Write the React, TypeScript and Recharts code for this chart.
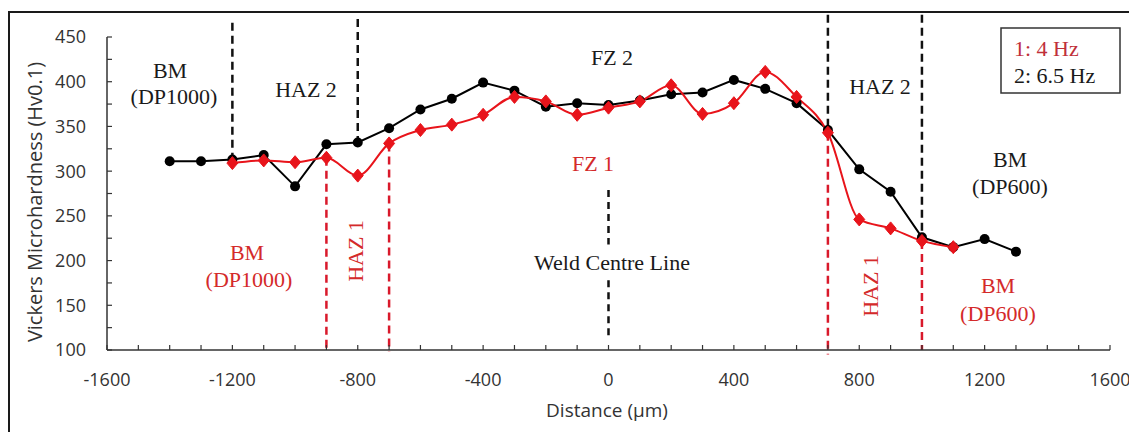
import { LineChart, Line, XAxis, YAxis, ReferenceLine } from 'recharts';

// 2: 6.5 Hz (black)
const distance65 = [-1400, -1300, -1200, -1100, -1000, -900, -800, -700, -600, -500, -400, -300, -200, -100, 0, 100, 200, 300, 400, 500, 600, 700, 800, 900, 1000, 1100, 1200, 1300];
const hardness65 = [311, 311, 313, 318, 283, 330, 332, 348, 369, 381, 399, 390, 372, 376, 374, 379, 386, 388, 402, 392, 376, 346, 302, 277, 226, 215, 224, 210];

// 1: 4 Hz (red)
const distance4 = [-1200, -1100, -1000, -900, -800, -700, -600, -500, -400, -300, -200, -100, 0, 100, 200, 300, 400, 500, 600, 700, 800, 900, 1000, 1100];
const hardness4 = [309, 312, 310, 315, 295, 331, 346, 352, 363, 383, 378, 363, 371, 378, 396, 364, 376, 411, 383, 343, 246, 236, 222, 215];

const xMajorTicks = [-1600, -1200, -800, -400, 0, 400, 800, 1200, 1600];
const xAllTicks = [-1600, -1500, -1400, -1300, -1200, -1100, -1000, -900, -800, -700, -600, -500, -400, -300, -200, -100, 0, 100, 200, 300, 400, 500, 600, 700, 800, 900, 1000, 1100, 1200, 1300, 1400, 1500, 1600];
const yMajorTicks = [100, 150, 200, 250, 300, 350, 400, 450];
const yAllTicks = [100, 125, 150, 175, 200, 225, 250, 275, 300, 325, 350, 375, 400, 425, 450];

// zone boundaries (x, top hardness, bottom hardness)
const blackBounds = [
  { x: -1200, top: 466, bottom: 313 },
  { x: -800, top: 470, bottom: 332 },
  { x: 700, top: 475, bottom: 346 },
  { x: 1000, top: 475, bottom: 226 },
];
const redBounds = [
  { x: -900, top: 315, bottom: 100 },
  { x: -700, top: 331, bottom: 98 },
  { x: 700, top: 343, bottom: 95 },
  { x: 1000, top: 222, bottom: 100 },
];
const centreLine = [
  { top: 279, bottom: 218 },
  { top: 178, bottom: 113 },
];

const series65 = distance65.map((x, i) => ({ x, hv: hardness65[i] }));
const series4 = distance4.map((x, i) => ({ x, hv: hardness4[i] }));

const RED = '#e8141b';
const RED_TEXT = '#d42a2a';
const AXIS_FONT = '"Open Sans", sans-serif';
const SERIF = '"Liberation Serif", "Times New Roman", serif';

const XTick = (props: any) => {
  const { x, y, payload } = props;
  const major = xMajorTicks.includes(payload.value);
  return (
    <g>
      <line x1={x} y1={y} x2={x} y2={y - 5} stroke="#333" strokeWidth={1.2} />
      {major && (
        <text x={x} y={y + 23} dy="0.71em" textAnchor="middle" fontFamily={AXIS_FONT} fontSize={18} fill="#333">
          {payload.value}
        </text>
      )}
    </g>
  );
};

const YTick = (props: any) => {
  const { x, y, payload } = props;
  const major = yMajorTicks.includes(payload.value);
  return (
    <g>
      <line x1={x} y1={y} x2={x + 5} y2={y} stroke="#333" strokeWidth={1.2} />
      {major && (
        <text x={x - 21} y={y} dy="0.355em" textAnchor="end" fontFamily={AXIS_FONT} fontSize={18} fill="#333">
          {payload.value}
        </text>
      )}
    </g>
  );
};

const Diamond = (props: any) => {
  const { cx, cy } = props;
  if (cx == null || cy == null) return null;
  return (
    <polygon
      points={`${cx},${cy - 6.5} ${cx + 5.5},${cy} ${cx},${cy + 6.5} ${cx - 5.5},${cy}`}
      fill={RED}
      stroke={RED}
      strokeWidth={1}
    />
  );
};

const Dot = (props: any) => {
  const { cx, cy } = props;
  if (cx == null || cy == null) return null;
  return <circle cx={cx} cy={cy} r={5} fill="#000" />;
};

const label = (text: string, x: number, y: number, color: string, rotate = false) => (
  <text
    x={x}
    y={y}
    textAnchor="middle"
    fontFamily={SERIF}
    fontSize={22}
    fill={color}
    transform={rotate ? `rotate(-90 ${x} ${y})` : undefined}
  >
    {text}
  </text>
);

const App = () => {
  return (
    <div style={{ position: 'relative', width: 1137, height: 432, margin: '-8px 0 0 -8px', overflow: 'hidden', background: 'white' }}>
      <div
        style={{
          position: 'absolute',
          left: 8,
          top: 11,
          width: 1126,
          height: 440,
          border: '2px solid #1a1a1a',
          boxSizing: 'border-box',
        }}
      />
      <div style={{ position: 'absolute', left: 0, top: 0 }}>
        <LineChart width={1137} height={432} margin={{ top: 37, right: 27, bottom: 30, left: 27 }}>
          <XAxis
            dataKey="x"
            type="number"
            domain={[-1600, 1600]}
            ticks={xAllTicks}
            interval={0}
            tickLine={false}
            tickSize={0}
            tickMargin={0}
            tick={(p: any) => <XTick {...p} />}
            axisLine={{ stroke: '#333', strokeWidth: 1.5 }}
            height={52}
          />
          <YAxis
            type="number"
            domain={[100, 450]}
            ticks={yAllTicks}
            interval={0}
            tickLine={false}
            tickSize={0}
            tickMargin={0}
            tick={(p: any) => <YTick {...p} />}
            axisLine={{ stroke: '#333', strokeWidth: 1.5 }}
            width={80}
          />
          {blackBounds.map((b) => (
            <ReferenceLine
              key={`b${b.x}`}
              segment={[{ x: b.x, y: b.top }, { x: b.x, y: b.bottom }]}
              ifOverflow="visible"
              stroke="#111"
              strokeWidth={2.5}
              strokeDasharray="8 5"
            />
          ))}
          {redBounds.map((b) => (
            <ReferenceLine
              key={`r${b.x}`}
              segment={[{ x: b.x, y: b.top }, { x: b.x, y: b.bottom }]}
              ifOverflow="visible"
              stroke="#d9192b"
              strokeWidth={2.5}
              strokeDasharray="8 5"
            />
          ))}
          {centreLine.map((c, i) => (
            <ReferenceLine
              key={`c${i}`}
              segment={[{ x: 0, y: c.top }, { x: 0, y: c.bottom }]}
              ifOverflow="visible"
              stroke="#111"
              strokeWidth={2.5}
              strokeDasharray="7 5"
            />
          ))}
          <Line
            data={series65}
            dataKey="hv"
            type="linear"
            stroke="#000"
            strokeWidth={2}
            dot={(p: any) => <Dot key={`d${p.index}`} {...p} />}
            activeDot={false}
            isAnimationActive={false}
          />
          <Line
            data={series4}
            dataKey="hv"
            type="monotone"
            stroke={RED}
            strokeWidth={2}
            dot={(p: any) => <Diamond key={`m${p.index}`} {...p} />}
            activeDot={false}
            isAnimationActive={false}
          />
        </LineChart>
      </div>
      <svg width={1137} height={432} style={{ position: 'absolute', left: 0, top: 0, pointerEvents: 'none' }}>
        <text x={41.5} y={202} textAnchor="middle" fontFamily={AXIS_FONT} fontSize={20} fill="#333" transform="rotate(-90 41.5 202)">
          Vickers Microhardness (Hv0.1)
        </text>
        <text x={607} y={417} textAnchor="middle" fontFamily={AXIS_FONT} fontSize={19} fill="#333">
          Distance (µm)
        </text>

        {label('BM', 170, 78, '#1a1a1a')}
        {label('(DP1000)', 174, 104, '#1a1a1a')}
        {label('HAZ 2', 306, 97, '#1a1a1a')}
        {label('FZ 2', 612, 65, '#1a1a1a')}
        {label('HAZ 2', 880, 94, '#1a1a1a')}
        {label('BM', 1010, 167, '#1a1a1a')}
        {label('(DP600)', 1010, 194, '#1a1a1a')}
        {label('Weld Centre Line', 612, 270, '#1a1a1a')}

        {label('FZ 1', 593, 171, RED_TEXT)}
        {label('BM', 247, 260, RED_TEXT)}
        {label('(DP1000)', 249, 287, RED_TEXT)}
        {label('HAZ 1', 363, 251, RED_TEXT, true)}
        {label('HAZ 1', 878, 286, RED_TEXT, true)}
        {label('BM', 998, 293, RED_TEXT)}
        {label('(DP600)', 998, 321, RED_TEXT)}

        <rect x={1001} y={28} width={119} height={65} fill="white" stroke="#333" strokeWidth={1.5} />
        <text x={1014} y={56} fontFamily={SERIF} fontSize={22} fill="#c0303a">
          1: 4 Hz
        </text>
        <text x={1014} y={83} fontFamily={SERIF} fontSize={22} fill="#1a1a1a">
          2: 6.5 Hz
        </text>
      </svg>
    </div>
  );
};

export default App;
